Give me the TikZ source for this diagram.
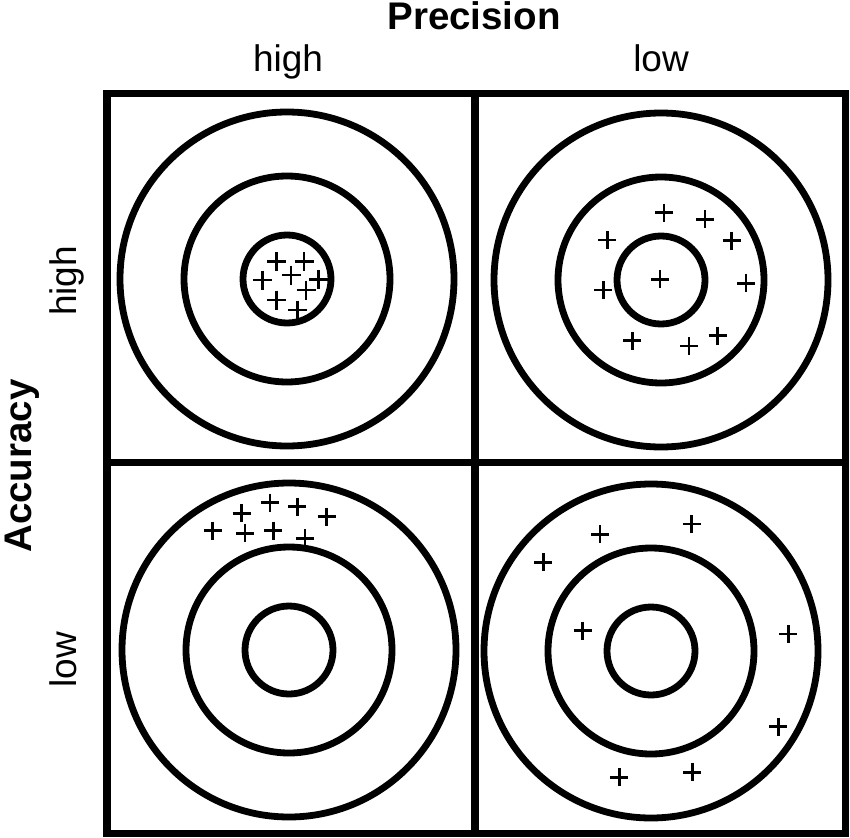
\documentclass[tikz,border=0pt]{standalone}
\usepackage{fontspec}
\setmainfont{Liberation Sans}
\begin{document}
\begin{tikzpicture}[x=1pt,y=-1pt,
  gridline/.style={line width=7.5pt,line cap=rect},
  ring/.style={line width=6.8pt},
  plusmark/.style={line width=2.5pt},
  biglabel/.style={inner sep=0pt,anchor=base,font=\fontsize{38.5}{40}\selectfont\bfseries},
  smalllabel/.style={inner sep=0pt,anchor=base,font=\fontsize{37}{39}\selectfont}]
\useasboundingbox (0,0) rectangle (850,837);
% targets
\foreach \cx/\cy in {287/279, 661/280, 289/650, 651/651}{
  \draw[ring] (\cx,\cy) circle (167pt);
  \draw[ring] (\cx,\cy) circle (103pt);
  \draw[ring] (\cx,\cy) circle (44pt);
}
% grid
\draw[gridline] (107,93.5) rectangle (845.5,833.5);
\draw[gridline] (475,93.5) -- (475,833.5);
\draw[gridline] (107,462.5) -- (845.5,462.5);
% plus marks: high accuracy, high precision
\foreach \x/\y in {276.7/261.7, 304/261.7, 262.3/280, 291/275, 318.3/279.3, 306/290, 276.7/300, 297.7/310}{
  \draw[plusmark] (\x-9.5,\y) -- (\x+9.5,\y) (\x,\y-9.5) -- (\x,\y+9.5);
}
% high accuracy, low precision
\foreach \x/\y in {664/212.7, 705/219.3, 607.3/240, 731.7/240.7, 660/279.3, 746/283.3, 603.3/290, 632.3/340.7, 717.7/335.7, 689/346}{
  \draw[plusmark] (\x-9,\y) -- (\x+9,\y) (\x,\y-9) -- (\x,\y+9);
}
% low accuracy, high precision
\foreach \x/\y in {270/502.7, 297.3/506.7, 241.7/513.3, 326.7/516.7, 212.7/530.7, 245/533.3, 273.3/530.7, 305/538.3}{
  \draw[plusmark] (\x-9,\y) -- (\x+9,\y) (\x,\y-9) -- (\x,\y+9);
}
% low accuracy, low precision
\foreach \x/\y in {691.7/524, 600/534.3, 543.3/562.3, 582.7/630.7, 788.3/634, 778.3/726.7, 619.3/777.3, 692.3/772.3}{
  \draw[plusmark] (\x-9,\y) -- (\x+9,\y) (\x,\y-9) -- (\x,\y+9);
}
% labels
\node[biglabel] (prec) at (474,29.3) {Precision};
\node[smalllabel] (phigh) at (288,72) {high};
\node[smalllabel] (plow) at (661,72) {low};
\node[biglabel,rotate=90] (acc) at (31,466) {Accuracy};
\node[smalllabel,rotate=90] (ahigh) at (76,281) {high};
\node[smalllabel,rotate=90] (alow) at (76,660) {low};
\end{tikzpicture}
\end{document}
